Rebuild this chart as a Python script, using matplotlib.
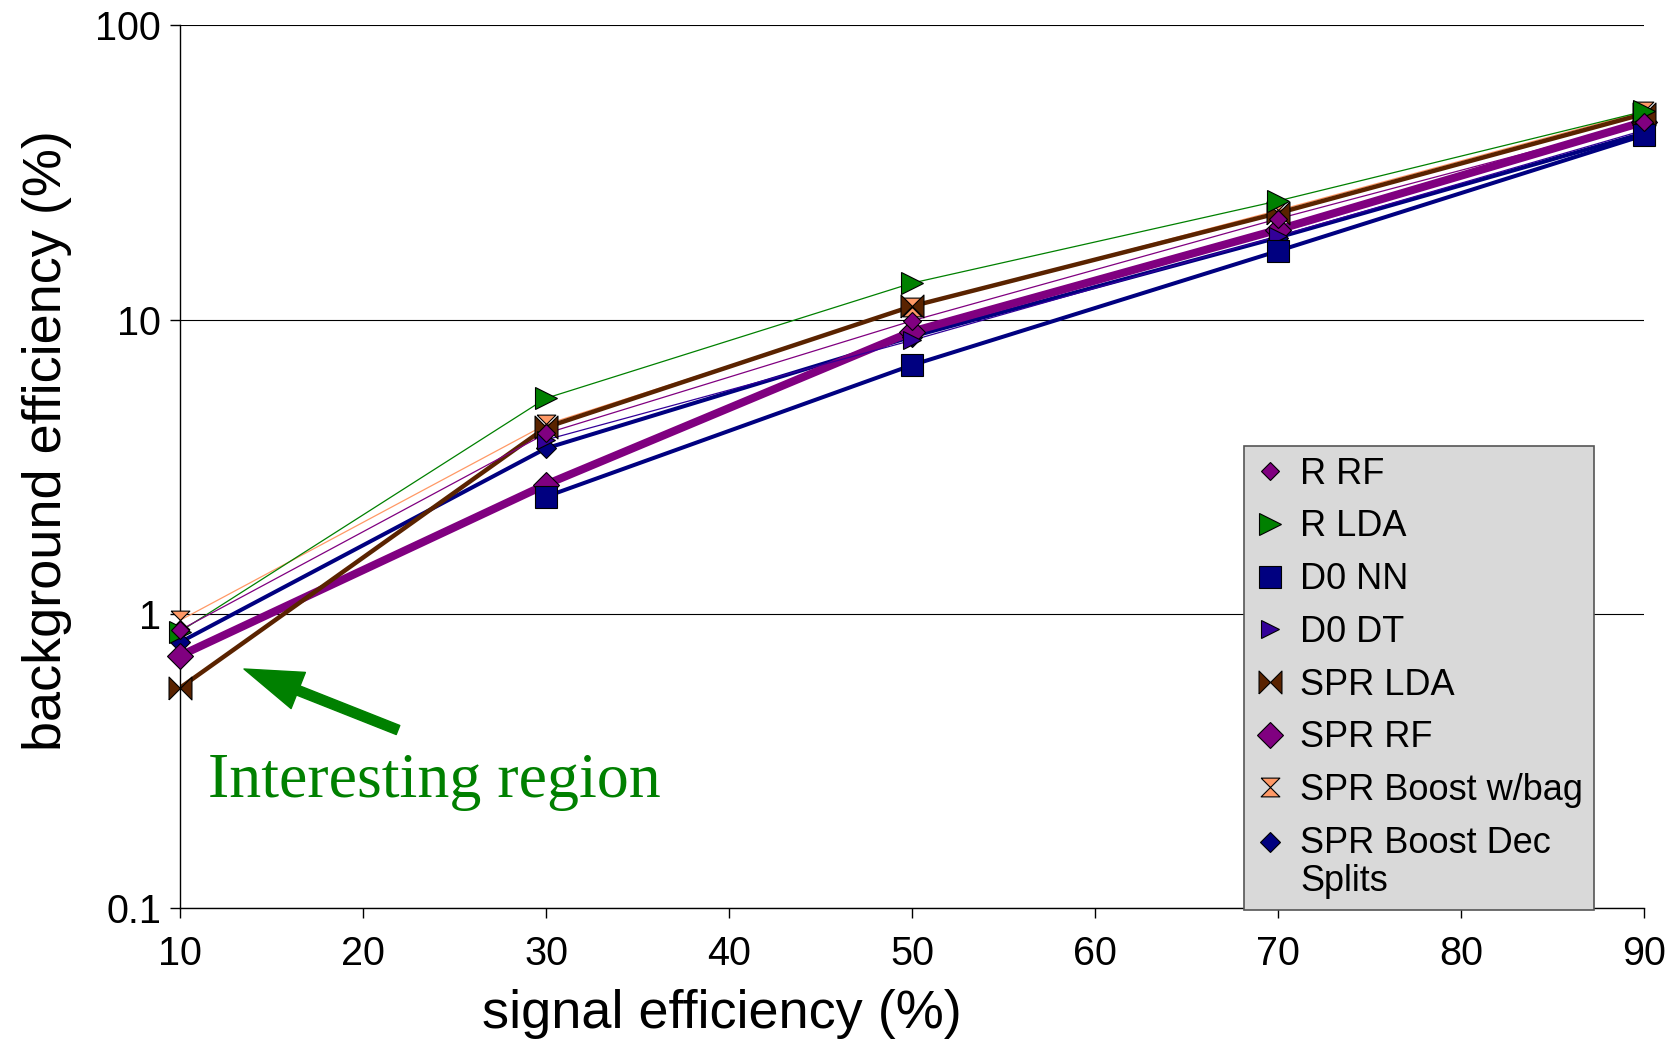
import numpy as np
import matplotlib
matplotlib.use('Agg')
import matplotlib.pyplot as plt
from matplotlib.lines import Line2D
from matplotlib.legend_handler import HandlerLine2D

plt.rcParams['font.family'] = ['Liberation Sans', 'DejaVu Sans']

# signal efficiency (%) and background efficiency (%) per method
sig_eff = [10, 30, 50, 70, 90]
r_rf = [0.88, 4.1, 9.9, 22.0, 47.0]
r_lda = [0.87, 5.4, 13.3, 25.3, 51.0]
d0_nn = [np.nan, 2.5, 7.0, 17.1, 42.3]
d0_dt = [np.nan, 3.9, 8.5, 19.2, 44.0]
spr_lda = [0.56, 4.3, 11.1, 23.0, 50.0]
spr_rf = [0.72, 2.75, 9.1, 20.2, 47.0]
spr_boost_bag = [0.95, 4.4, 11.0, 23.5, 51.0]
spr_boost_dec = [0.80, 3.65, 8.75, 19.0, 43.0]

names = ['R RF', 'R LDA', 'D0 NN', 'D0 DT', 'SPR LDA', 'SPR RF',
         'SPR Boost w/bag', 'SPR Boost Dec\nSplits']
series = [r_rf, r_lda, d0_nn, d0_dt, spr_lda, spr_rf, spr_boost_bag, spr_boost_dec]

bowtie = [(-1, -1), (-1, 1), (0, 0), (1, 1), (1, -1), (0, 0), (-1, -1)]
hourglass = [(-1, 1), (1, 1), (0, 0), (1, -1), (-1, -1), (0, 0), (-1, 1)]

colors = ['#800080', '#008000', '#000080', '#330099', '#5a2300', '#800080',
          '#ff9966', '#000080']
markers = ['D', '>', 's', '>', bowtie, 'D', hourglass, 'D']
msizes = [9.2, 16, 16.5, 13, 16.5, 13.2, 13.5, 9.7]
lwidths = [0.9, 0.9, 2.9, 0.9, 3.2, 5.8, 0.9, 2.9]


# legend marker of the two-line entry sits on its first line
class RaisedHandler(HandlerLine2D):
    def __init__(self, dy, **kw):
        super().__init__(**kw)
        self.dy = dy

    def create_artists(self, legend, orig_handle, xdescent, ydescent,
                       width, height, fontsize, trans):
        arts = super().create_artists(legend, orig_handle, xdescent, ydescent,
                                      width, height, fontsize, trans)
        for a in arts:
            a.set_ydata(np.asarray(a.get_ydata()) + self.dy)
        return arts


fig = plt.figure(figsize=(16.77, 10.46), dpi=100)
ax = fig.add_axes([180 / 1677, 1 - 908 / 1046, 1464 / 1677, 882.7 / 1046])

for i, (y, c, lw) in enumerate(zip(series, colors, lwidths)):
    ax.plot(sig_eff, y, color=c, lw=lw, zorder=2 + (8 - i) * 0.01)

handles = []
for i, (y, c, m, ms) in enumerate(zip(series, colors, markers, msizes)):
    ax.plot(sig_eff, y, ls='none', marker=m, ms=ms, mfc=c, mec='black',
            mew=0.8, zorder=3 + (8 - i) * 0.01, clip_on=False)
    handles.append(Line2D([], [], ls='none', marker=m, ms=ms, mfc=c,
                          mec='black', mew=0.8))

ax.set_yscale('log')
ax.set_ylim(0.1, 100)
ax.set_xlim(10, 90)
ax.set_xticks(range(10, 91, 10))
ax.set_yticks([0.1, 1, 10, 100])
ax.set_yticklabels(['0.1', '1', '10', '100'])
ax.minorticks_off()
ax.grid(axis='y', color='black', lw=0.8)
ax.set_axisbelow(True)
for s in ['top', 'right']:
    ax.spines[s].set_visible(False)
ax.spines['left'].set_linewidth(1)
ax.spines['bottom'].set_linewidth(1)
ax.tick_params(axis='x', length=7.5, width=1, pad=12, labelsize=28.5)
ax.tick_params(axis='y', length=7.5, width=1, pad=6, labelsize=28.5)

ax.set_xlabel('signal efficiency (%)', fontsize=39)
ax.xaxis.set_label_coords(0.37, -0.092)
ax.set_ylabel('background efficiency (%)', fontsize=39)
ax.yaxis.set_label_coords(-0.074, 0.529)

leg = fig.legend(handles, names, loc='lower right',
                 bbox_to_anchor=(1594 / 1677, 1 - 910 / 1046),
                 fontsize=26, frameon=True, fancybox=False, framealpha=1,
                 facecolor='#d9d9d9', edgecolor='#555555', borderpad=0.3,
                 handlelength=0.8, handletextpad=0.45, labelspacing=0.49,
                 borderaxespad=0,
                 handler_map={handles[-1]: RaisedHandler(15)})
leg.get_frame().set_linewidth(1.2)
for t in leg.get_texts():
    t.set_linespacing(1.13)

fig.text(208, 1046 - 797, 'Interesting region', transform=None,
         fontsize=46, color='#008000', family='Liberation Serif',
         ha='left', va='baseline')
ax.annotate('', xy=(244, 1046 - 669), xycoords='figure pixels',
            xytext=(398, 1046 - 730), textcoords='figure pixels',
            arrowprops=dict(arrowstyle='simple,head_length=42,head_width=28,tail_width=7',
                            mutation_scale=1, color='#008000',
                            shrinkA=0, shrinkB=0))

fig.savefig('out.png', dpi=100)
